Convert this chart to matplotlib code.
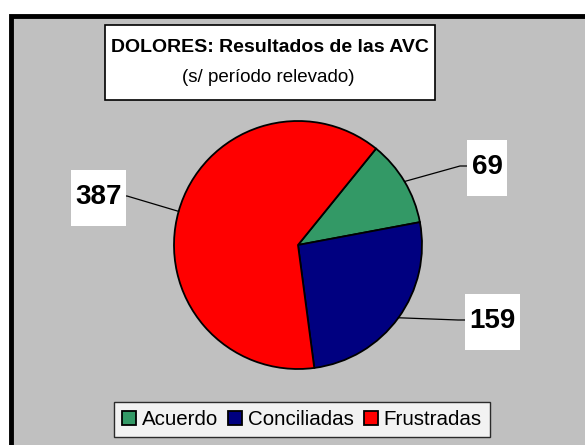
import numpy as np
import matplotlib.pyplot as plt
from matplotlib.patches import Rectangle

plt.rcParams['font.family'] = ['Liberation Sans', 'DejaVu Sans']

labels = ['Acuerdo', 'Conciliadas', 'Frustradas']
values = [69, 159, 387]
colors = ['#339966', '#000080', '#FF0000']

H = 445
# value boxes in pixels: (left, top, width, height)
label_boxes = [(467, 140, 40, 56), (465, 294, 55, 56), (71, 170, 55, 56)]

fig = plt.figure(figsize=(5.85, 4.45), dpi=100)
ax = fig.add_axes([0, 0, 1, 1])

# chart area background with frame
ax.add_patch(Rectangle((10.5, -20), 600, H - 16 + 20, facecolor='#C0C0C0',
                       edgecolor='black', linewidth=3.5, zorder=0))

# title box
ax.add_patch(Rectangle((105, H - 100), 330, 75, facecolor='white',
                       edgecolor='black', linewidth=1.2, zorder=1))
ax.text(270, H - 47, 'DOLORES: Resultados de las AVC', ha='center', va='center',
        fontsize=14, fontweight='bold', zorder=2)
ax.text(268, H - 78, '(s/ período relevado)', ha='center', va='center',
        fontsize=13.5, zorder=2)

# pie
cx, cy, r = 298, H - 245, 124
start = 51
wedges, _ = ax.pie(values, colors=colors, startangle=start, counterclock=False,
                   center=(cx, cy), radius=r, frame=True,
                   wedgeprops=dict(edgecolor='black', linewidth=1.3))
ax.set_xlim(0, 585)
ax.set_ylim(0, H)
ax.set_aspect('equal')
ax.axis('off')

# value labels with leader lines
total = sum(values)
a = start
for v, (bx, by, bw, bh) in zip(values, label_boxes):
    sweep = v / total * 360
    mid = np.deg2rad(a - sweep / 2)
    a -= sweep
    ex, ey = cx + r * np.cos(mid), cy + r * np.sin(mid)
    ty = H - (by + bh / 2) + 2
    if bx > cx:
        xs = [ex, bx - 7, bx]
    else:
        xs = [ex, bx + bw + 1, bx + bw]
    ax.plot(xs, [ey, ty, ty], color='black', linewidth=0.9, zorder=3)
    ax.add_patch(Rectangle((bx, H - by - bh), bw, bh, facecolor='white',
                           edgecolor='none', zorder=4))
    ax.text(bx + bw / 2, H - (by + bh / 2) + 1, str(v), ha='center', va='center',
            fontsize=20, fontweight='bold', zorder=5)

# legend
leg = ax.legend(wedges, labels, loc='center', bbox_to_anchor=(302 / 585, (H - 419.5) / H),
                ncol=3, frameon=True, fancybox=False, fontsize=14.8,
                handlelength=0.67, handleheight=0.67, handletextpad=0.29,
                columnspacing=0.48, borderpad=0.4, borderaxespad=0)
leg.get_frame().set_edgecolor('black')
leg.get_frame().set_linewidth(1.0)

fig.savefig('out.png', dpi=100)
